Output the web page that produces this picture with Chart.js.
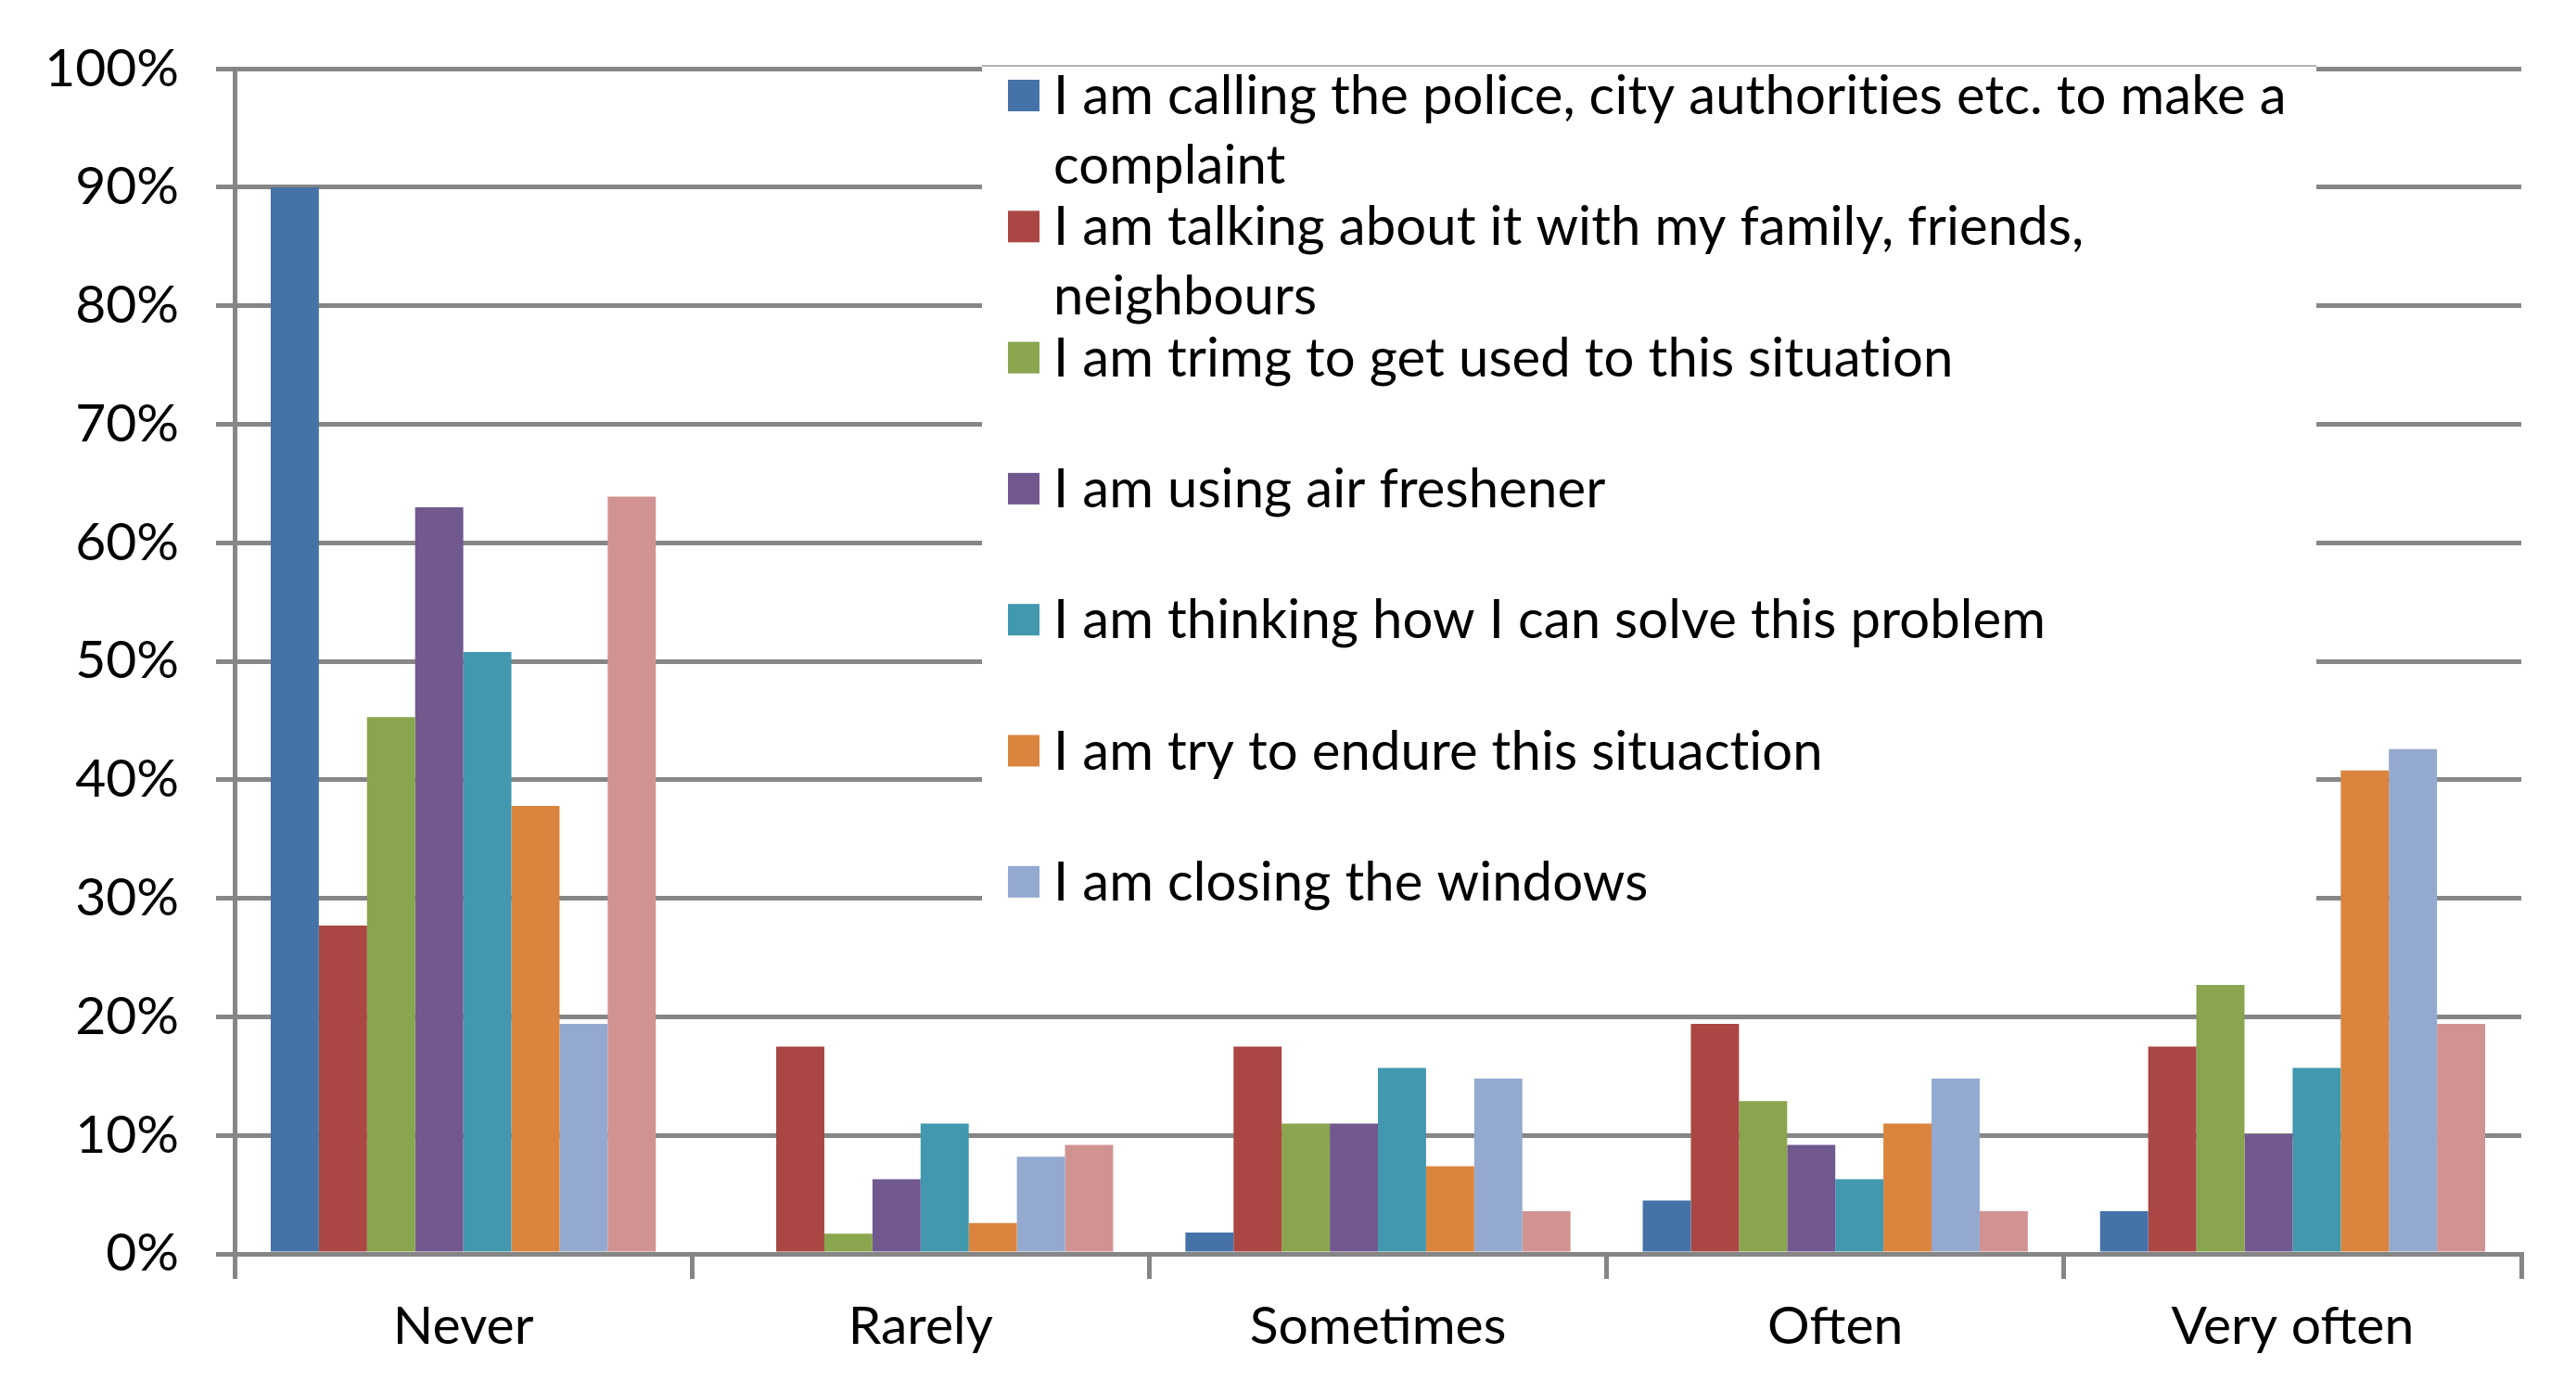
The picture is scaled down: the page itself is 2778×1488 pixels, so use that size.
<!DOCTYPE html>
<html>
<head>
<meta charset="utf-8">
<script src="https://cdn.jsdelivr.net/npm/chart.js@4/dist/chart.umd.min.js"></script>
<style>
  html, body { margin: 0; padding: 0; background: #fff; }
  #chart { display: block; }
</style>
</head>
<body>
<canvas id="chart" width="2778" height="1488" style="width:2778px;height:1488px"></canvas>
<script>
const CATEGORIES = ["Never", "Rarely", "Sometimes", "Often", "Very often"];

const SERIES_NAMES = [
  ["I am calling the police, city authorities etc. to make a", "complaint"],
  ["I am talking about it with my family, friends,", "neighbours"],
  ["I am trimg to get used to this situation"],
  ["I am using air freshener"],
  ["I am thinking how I can solve this problem"],
  ["I am try to endure this situaction"],
  ["I am closing the windows"],
  [""]
];

const CALLING_POLICE = [90.0, 0, 1.8, 4.5, 3.6];
const TALKING_FAMILY = [27.7, 17.5, 17.5, 19.4, 17.5];
const GET_USED = [45.3, 1.7, 11.0, 12.9, 22.7];
const AIR_FRESHENER = [63.0, 6.3, 11.0, 9.2, 10.1];
const SOLVE_PROBLEM = [50.8, 11.0, 15.7, 6.3, 15.7];
const ENDURE = [37.8, 2.6, 7.4, 11.0, 40.8];
const CLOSING_WINDOWS = [19.4, 8.2, 14.8, 14.8, 42.6];
const EIGHTH_SERIES = [63.9, 9.2, 3.6, 3.6, 19.4];

const SERIES_VALUES = [CALLING_POLICE, TALKING_FAMILY, GET_USED, AIR_FRESHENER,
  SOLVE_PROBLEM, ENDURE, CLOSING_WINDOWS, EIGHTH_SERIES];

const COLORS = ["#4572A7", "#AA4643", "#89A54E", "#71588F", "#4198AF", "#DB843D", "#93A9CF", "#D19392"];

const Y_TICKS = [0, 10, 20, 30, 40, 50, 60, 70, 80, 90, 100];
const LEGEND_SHOWN = 7;

(function () {
  const FONT = "Lato, 'Open Sans', sans-serif";
  const GRID = "#868686";

  // legend box sits inside the plot, over the gridlines but under the bars
  const boxLegend = {
    id: "boxLegend",
    beforeDatasetsDraw(chart) {
      const ctx = chart.ctx;
      const left = 1059, right = 2498, top = 70, bottom = 1000;
      ctx.save();
      ctx.fillStyle = "#fff";
      ctx.fillRect(left, top, right - left, bottom - top);
      ctx.strokeStyle = "#9a9a9a";
      ctx.lineWidth = 1.5;
      ctx.beginPath();
      ctx.moveTo(left, top + 1);
      ctx.lineTo(right, top + 1);
      ctx.stroke();

      ctx.font = "58px " + FONT;
      ctx.letterSpacing = "0.1px"; // keeps "ti" from turning into a ligature
      ctx.textBaseline = "alphabetic";
      ctx.textAlign = "left";
      const step = 141.3, lineH = 75, cap = 20;
      for (let i = 0; i < LEGEND_SHOWN; i++) {
        const cy = 103 + i * step;
        ctx.fillStyle = COLORS[i];
        ctx.fillRect(1087, cy - 17, 34, 34);
        ctx.fillStyle = "#000";
        SERIES_NAMES[i].forEach((line, j) => ctx.fillText(line, 1136, cy + cap + j * lineH));
      }
      ctx.restore();
    }
  };

  const datasets = SERIES_VALUES.map((vals, i) => ({
    label: SERIES_NAMES[i].join(" "),
    data: vals,
    backgroundColor: COLORS[i],
    borderWidth: 0,
    barPercentage: 1.0,
    categoryPercentage: 0.842
  }));

  new Chart(document.getElementById("chart"), {
    type: "bar",
    data: { labels: CATEGORIES, datasets: datasets },
    plugins: [boxLegend],
    options: {
      responsive: false,
      animation: false,
      devicePixelRatio: 1,
      layout: { padding: { top: 73, right: 59, left: 0, bottom: 0 } },
      plugins: { legend: { display: false }, tooltip: { enabled: false } },
      scales: {
        x: {
          afterFit: s => { s.height = 136; },
          grid: { offset: true, drawOnChartArea: false, drawTicks: true, tickLength: 27, color: GRID, lineWidth: 5 },
          border: { display: true, color: GRID, width: 5 },
          ticks: { color: "#000", padding: 17, font: { family: FONT, size: 57 } }
        },
        y: {
          min: 0, max: 100,
          afterFit: s => { s.width = 253; },
          afterBuildTicks: s => { s.ticks = Y_TICKS.map(v => ({ value: v })); },
          grid: { color: GRID, lineWidth: 5, tickLength: 20 },
          border: { display: true, color: GRID, width: 5 },
          ticks: { color: "#000", padding: 40, font: { family: FONT, size: 57 }, callback: v => v + "%" }
        }
      }
    }
  });
})();
</script>
</body>
</html>
